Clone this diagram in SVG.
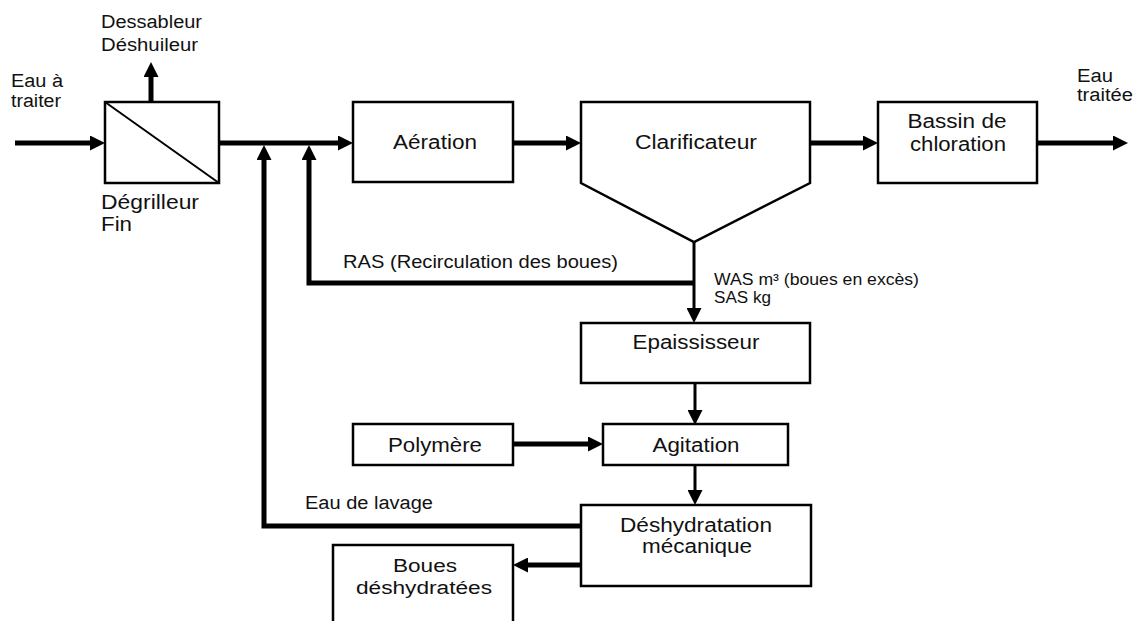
<svg xmlns="http://www.w3.org/2000/svg" width="1135" height="621" viewBox="0 0 1135 621">
<style>
.box{fill:#fff;stroke:#000;stroke-width:2.5}
.thin{stroke:#000;stroke-width:2}
.flow{fill:none;stroke:#000;stroke-width:5;stroke-linejoin:miter}
.flow3{fill:none;stroke:#000;stroke-width:3}
text{font-family:"Liberation Sans",Arial,sans-serif;font-size:19.5px;fill:#111}
.c{text-anchor:middle}
.m{font-size:18px}
.s{font-size:16px}
</style>
<defs>
<marker id="ah" markerUnits="userSpaceOnUse" markerWidth="15" markerHeight="15" viewBox="0 0 15 15" refX="5" refY="7.5" orient="auto">
<path d="M0,0 L15,7.5 L0,15 z" fill="#000"/>
</marker>
</defs>
<rect width="1135" height="621" fill="#fff"/>
<g id="connectors">
<line class="flow" x1="15" y1="143" x2="95" y2="143" marker-end="url(#ah)"/>
<line class="flow" x1="151" y1="102" x2="151" y2="72" marker-end="url(#ah)"/>
<line class="flow" x1="219" y1="143" x2="343" y2="143" marker-end="url(#ah)"/>
<line class="flow" x1="513" y1="143" x2="571" y2="143" marker-end="url(#ah)"/>
<line class="flow" x1="810" y1="143" x2="868" y2="143" marker-end="url(#ah)"/>
<line class="flow" x1="1037" y1="143" x2="1118" y2="143" marker-end="url(#ah)"/>
<line class="flow3" x1="694" y1="242" x2="694" y2="313" marker-end="url(#ah)"/>
<path class="flow" d="M694,283 H309 V155" marker-end="url(#ah)"/>
<path class="flow" d="M581,526 H264 V155" marker-end="url(#ah)"/>
<line class="flow3" x1="695" y1="383" x2="695" y2="415" marker-end="url(#ah)"/>
<line class="flow" x1="513" y1="444" x2="593" y2="444" marker-end="url(#ah)"/>
<line class="flow3" x1="695" y1="465" x2="695" y2="495" marker-end="url(#ah)"/>
<line class="flow" x1="581" y1="565" x2="523" y2="565" marker-end="url(#ah)"/>
</g>
<g id="degrilleur">
<rect class="box" x="105" y="102" width="114" height="81"/>
<line class="thin" x1="105" y1="102" x2="219" y2="183"/>
<text x="101" y="209" textLength="98" lengthAdjust="spacingAndGlyphs">Dégrilleur</text>
<text x="101" y="231" textLength="31" lengthAdjust="spacingAndGlyphs">Fin</text>
</g>
<g id="dessableur">
<text class="m" x="101" y="28" textLength="101" lengthAdjust="spacingAndGlyphs">Dessableur</text>
<text class="m" x="101" y="51" textLength="97" lengthAdjust="spacingAndGlyphs">Déshuileur</text>
</g>
<g id="eau-a-traiter">
<text class="m" x="11" y="87" textLength="52" lengthAdjust="spacingAndGlyphs">Eau à</text>
<text class="m" x="11" y="107" textLength="50" lengthAdjust="spacingAndGlyphs">traiter</text>
</g>
<g id="aeration">
<rect class="box" x="353" y="102" width="160" height="80"/>
<text class="c" x="435" y="149" textLength="84" lengthAdjust="spacingAndGlyphs">Aération</text>
</g>
<g id="clarificateur">
<path class="box" d="M581,102 H810 V183 L694,242 L581,183 Z"/>
<text class="c" x="696" y="149" textLength="122" lengthAdjust="spacingAndGlyphs">Clarificateur</text>
</g>
<g id="bassin">
<rect class="box" x="878" y="102" width="159" height="81"/>
<text class="c" x="957" y="128" textLength="99" lengthAdjust="spacingAndGlyphs">Bassin de</text>
<text class="c" x="958" y="151" textLength="96" lengthAdjust="spacingAndGlyphs">chloration</text>
</g>
<g id="eau-traitee">
<text class="m" x="1077" y="82" textLength="36" lengthAdjust="spacingAndGlyphs">Eau</text>
<text class="m" x="1077" y="101" textLength="56" lengthAdjust="spacingAndGlyphs">traitée</text>
</g>
<g id="ras-label">
<text class="m" x="343" y="268" textLength="275" lengthAdjust="spacingAndGlyphs">RAS (Recirculation des boues)</text>
</g>
<g id="was-label">
<text class="s" x="714" y="285" textLength="205" lengthAdjust="spacingAndGlyphs">WAS m³ (boues en excès)</text>
<text class="s" x="714" y="303" textLength="57" lengthAdjust="spacingAndGlyphs">SAS kg</text>
</g>
<g id="epaississeur">
<rect class="box" x="581" y="323" width="229" height="60"/>
<text class="c" x="696" y="349" textLength="127" lengthAdjust="spacingAndGlyphs">Epaississeur</text>
</g>
<g id="polymere">
<rect class="box" x="353" y="424" width="160" height="41"/>
<text class="c" x="435" y="452" textLength="94" lengthAdjust="spacingAndGlyphs">Polymère</text>
</g>
<g id="agitation">
<rect class="box" x="603" y="424" width="185" height="41"/>
<text class="c" x="696" y="452" textLength="87" lengthAdjust="spacingAndGlyphs">Agitation</text>
</g>
<g id="eau-lavage">
<text class="m" x="305" y="509" textLength="128" lengthAdjust="spacingAndGlyphs">Eau de lavage</text>
</g>
<g id="deshydratation">
<rect class="box" x="581" y="505" width="230" height="81"/>
<text class="c" x="696" y="532" textLength="152" lengthAdjust="spacingAndGlyphs">Déshydratation</text>
<text class="c" x="697" y="553" textLength="110" lengthAdjust="spacingAndGlyphs">mécanique</text>
</g>
<g id="boues">
<rect class="box" x="333" y="545" width="180" height="90"/>
<text class="m c" x="425" y="572" textLength="64" lengthAdjust="spacingAndGlyphs">Boues</text>
<text class="m c" x="424" y="594" textLength="136" lengthAdjust="spacingAndGlyphs">déshydratées</text>
</g>
</svg>
